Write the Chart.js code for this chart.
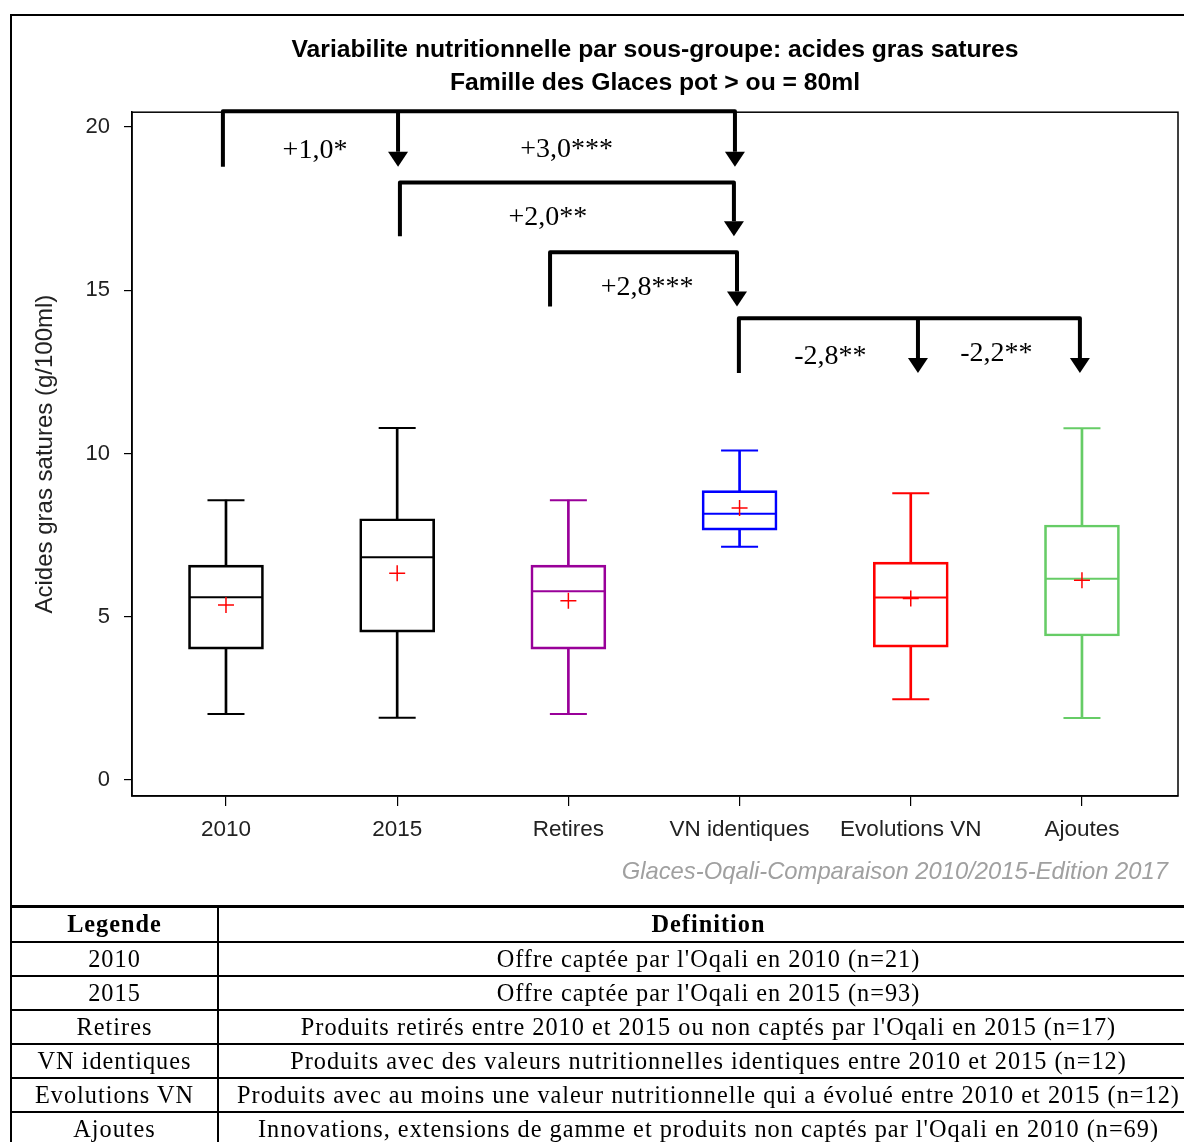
<!DOCTYPE html>
<html>
<head>
<meta charset="utf-8">
<script src="https://cdn.jsdelivr.net/npm/chart.js@4.4.1/dist/chart.umd.min.js"></script>
<style>
body { margin: 0; background: #fff; width: 1184px; height: 1142px; overflow: hidden; position: relative; }
#frame { position: absolute; left: 10px; top: 14px; width: 1200px; height: 890px; border: 2px solid #000; }
#boxChart { position: absolute; left: 0; top: 0; }
table { position: absolute; left: 10px; top: 905px; width: 1190px; border-collapse: collapse; table-layout: fixed;
        font-family: "Liberation Serif", "DejaVu Serif", serif; font-size: 24.3px; letter-spacing: 1px; color: #000; }
th, td { border: 2px solid #000; text-align: center; padding: 0; white-space: nowrap; line-height: 30px; overflow: hidden; }
th { height: 34px; }
td { height: 32px; }
</style>
</head>
<body>
<div id="frame"></div>
<canvas id="boxChart" width="1184" height="906"></canvas>
<table>
  <colgroup><col style="width: 207px"><col></colgroup>
  <tr><th>Legende</th><th>Definition</th></tr>
  <tr><td>2010</td><td>Offre captée par l'Oqali en 2010 (n=21)</td></tr>
  <tr><td>2015</td><td>Offre captée par l'Oqali en 2015 (n=93)</td></tr>
  <tr><td>Retires</td><td>Produits retirés entre 2010 et 2015 ou non captés par l'Oqali en 2015 (n=17)</td></tr>
  <tr><td>VN identiques</td><td>Produits avec des valeurs nutritionnelles identiques entre 2010 et 2015 (n=12)</td></tr>
  <tr><td>Evolutions VN</td><td>Produits avec au moins une valeur nutritionnelle qui a évolué entre 2010 et 2015 (n=12)</td></tr>
  <tr><td>Ajoutes</td><td>Innovations, extensions de gamme et produits non captés par l'Oqali en 2010 (n=69)</td></tr>
</table>
<script>
// box plot values (g/100ml)
const categories = ['2010', '2015', 'Retires', 'VN identiques', 'Evolutions VN', 'Ajoutes'];
const whiskerLow = [2.02, 1.91, 2.02, 7.14, 2.47, 1.90];
const q1 = [4.01, 4.53, 4.01, 7.65, 4.07, 4.41];
const median = [5.60, 6.82, 5.78, 8.15, 5.59, 6.16];
const q3 = [6.58, 8.00, 6.58, 8.86, 6.67, 7.81];
const whiskerHigh = [8.57, 10.78, 8.57, 10.09, 8.78, 10.77];
const mean = [5.36, 6.33, 5.49, 8.33, 5.56, 6.12];
const boxColors = ['#000000', '#000000', '#990099', '#0000ff', '#ff0000', '#66cc66'];
const yTicks = [0, 5, 10, 15, 20];

// significance brackets (x in category positions, y in g/100ml)
const bracketFrom = [0.982, 2.016, 2.893, 3.996];
const bracketTargets = [[2.005, 3.973], [3.967], [3.985], [5.042, 5.988]];
const bracketTop = [20.48, 18.30, 16.16, 14.14];
const bracketBottom = [18.78, 16.65, 14.50, 12.46];
const diffLabels = ['+1,0*', '+3,0***', '+2,0**', '+2,8***', '-2,8**', '-2,2**'];
const diffLabelX = [1.52, 2.99, 2.88, 3.46, 4.53, 5.50];
const diffLabelY = [19.28, 19.31, 17.23, 15.09, 12.95, 13.07];

const xs = categories.map((c, i) => i + 1);
const pts = (arr) => arr.map((v, i) => ({ x: xs[i], y: v }));
const ranges = (a, b) => a.map((v, i) => ({ x: xs[i], y: [v, b[i]] }));

const sansFont = "'Liberation Sans', Arial, sans-serif";

const framePlugin = {
    id: 'frame',
    beforeDatasetsDraw(chart) {
        const a = chart.chartArea;
        const ctx = chart.ctx;
        ctx.save();
        ctx.strokeStyle = '#000';
        ctx.lineWidth = 1.5;
        ctx.strokeRect(a.left, a.top, a.right - a.left, a.bottom - a.top);
        ctx.restore();
    },
    afterDraw(chart) {
        const a = chart.chartArea;
        const ctx = chart.ctx;
        ctx.save();
        ctx.font = 'italic 23.8px ' + sansFont;
        ctx.fillStyle = '#a0a0a0';
        ctx.textAlign = 'right';
        ctx.textBaseline = 'middle';
        ctx.fillText('Glaces-Oqali-Comparaison 2010/2015-Edition 2017', a.right - 10, 872);
        ctx.restore();
    }
};

const bracketPlugin = {
    id: 'brackets',
    afterDatasetsDraw(chart) {
        const x = chart.scales.x, y = chart.scales.y;
        const ctx = chart.ctx;
        ctx.save();
        ctx.strokeStyle = '#000';
        ctx.fillStyle = '#000';
        ctx.lineWidth = 4;
        ctx.lineJoin = 'round';
        const arrowH = 15, arrowW = 10;
        bracketFrom.forEach((from, i) => {
            const x0 = x.getPixelForValue(from);
            const yTop = y.getPixelForValue(bracketTop[i]);
            const yBot = y.getPixelForValue(bracketBottom[i]);
            const targets = bracketTargets[i].map(t => x.getPixelForValue(t));
            const last = targets[targets.length - 1];
            ctx.beginPath();
            ctx.moveTo(x0, yBot);
            ctx.lineTo(x0, yTop);
            ctx.lineTo(last, yTop);
            ctx.lineTo(last, yBot - arrowH);
            ctx.stroke();
            targets.forEach((tx, k) => {
                if (k < targets.length - 1) {
                    ctx.beginPath();
                    ctx.moveTo(tx, yTop);
                    ctx.lineTo(tx, yBot - arrowH);
                    ctx.stroke();
                }
                ctx.beginPath();
                ctx.moveTo(tx - arrowW, yBot - arrowH);
                ctx.lineTo(tx + arrowW, yBot - arrowH);
                ctx.lineTo(tx, yBot);
                ctx.closePath();
                ctx.fill();
            });
        });
        ctx.font = "28px 'Liberation Serif', 'DejaVu Serif', serif";
        ctx.textAlign = 'center';
        ctx.textBaseline = 'middle';
        diffLabels.forEach((t, i) => {
            ctx.fillText(t, x.getPixelForValue(diffLabelX[i]), y.getPixelForValue(diffLabelY[i]));
        });
        ctx.restore();
    }
};

const ctx = document.getElementById('boxChart').getContext('2d');

const boxChart = new Chart(ctx, {
    type: 'bar',
    data: {
        datasets: [
            {
                type: 'scatter', label: 'mean', data: pts(mean),
                pointStyle: 'cross', radius: 8, borderColor: '#ff0000', borderWidth: 1.5
            },
            {
                type: 'scatter', label: 'median', data: pts(median),
                pointStyle: 'line', radius: 36.5, borderColor: boxColors, borderWidth: 2
            },
            {
                type: 'scatter', label: 'capLow', data: pts(whiskerLow),
                pointStyle: 'line', radius: 18.5, borderColor: boxColors, borderWidth: 2
            },
            {
                type: 'scatter', label: 'capHigh', data: pts(whiskerHigh),
                pointStyle: 'line', radius: 18.5, borderColor: boxColors, borderWidth: 2
            },
            {
                label: 'box', data: ranges(q1, q3), grouped: false, barThickness: 75,
                backgroundColor: 'rgba(255,255,255,0)', borderColor: boxColors,
                borderWidth: 2, borderSkipped: false
            },
            {
                label: 'stemLow', data: ranges(whiskerLow, q1), grouped: false, barThickness: 2,
                backgroundColor: boxColors, borderWidth: 0
            },
            {
                label: 'stemHigh', data: ranges(q3, whiskerHigh), grouped: false, barThickness: 2,
                backgroundColor: boxColors, borderWidth: 0
            }
        ]
    },
    options: {
        responsive: false,
        animation: false,
        events: [],
        layout: { autoPadding: false, padding: { top: 34, left: 0, right: 6, bottom: 0 } },
        plugins: {
            legend: { display: false },
            tooltip: { enabled: false },
            title: {
                display: true,
                fullSize: false,
                text: ['Variabilite nutritionnelle par sous-groupe: acides gras satures',
                       'Famille des Glaces pot > ou = 80ml'],
                color: '#000',
                font: { family: sansFont, size: 24.7, weight: 'bold', lineHeight: 1.34 },
                padding: { top: 0, bottom: 12 }
            }
        },
        scales: {
            x: {
                type: 'linear',
                min: 0.451,
                max: 6.561,
                offset: false,
                afterBuildTicks: (s) => { s.ticks = xs.map(v => ({ value: v })); },
                afterFit: (s) => { s.height = 110; s.paddingLeft = 0; s.paddingRight = 0; },
                ticks: {
                    callback: (v) => categories[v - 1],
                    color: '#222',
                    font: { family: sansFont, size: 22.5 },
                    padding: 10,
                    maxRotation: 0,
                    autoSkip: false
                },
                grid: { display: true, drawOnChartArea: false, offset: false, color: '#000', tickLength: 10, lineWidth: 1.2 },
                border: { display: true, color: '#000', width: 1.5 }
            },
            y: {
                type: 'linear',
                min: -0.49,
                max: 20.45,
                afterBuildTicks: (s) => { s.ticks = yTicks.map(v => ({ value: v })); },
                afterFit: (s) => { s.width = 132; s.paddingTop = 0; s.paddingBottom = 0; },
                ticks: {
                    color: '#222',
                    font: { family: sansFont, size: 22 },
                    padding: 14
                },
                grid: { display: true, drawOnChartArea: false, color: '#000', tickLength: 8, lineWidth: 1.2 },
                border: { display: true, color: '#000', width: 1.5 },
                title: {
                    display: true,
                    text: 'Acides gras satures (g/100ml)',
                    color: '#222',
                    font: { family: sansFont, size: 24 },
                    padding: { top: 30.6, bottom: 0 }
                }
            }
        }
    },
    plugins: [framePlugin, bracketPlugin]
});
</script>
</body>
</html>
